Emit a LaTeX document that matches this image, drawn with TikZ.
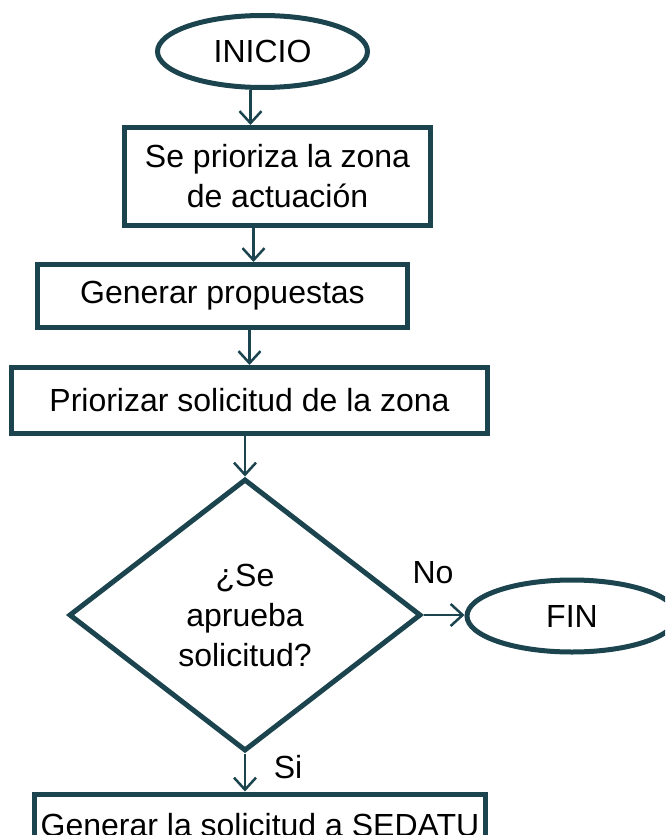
\documentclass[tikz,border=0pt]{standalone}
\usepackage{fontspec}
\setmainfont{Liberation Sans}
\usetikzlibrary{shapes.geometric,arrows.meta}
\definecolor{flowline}{RGB}{27,68,79}

\begin{document}
\begin{tikzpicture}[x=1pt,y=-1pt,
  every node/.style={font=\fontsize{32}{40}\selectfont},
  term/.style={draw=flowline,line width=5pt,ellipse,minimum width=210pt,minimum height=72pt,inner sep=0pt},
  proc/.style={draw=flowline,line width=5pt,rectangle,align=center,inner sep=0pt},
  decis/.style={draw=flowline,line width=5pt,diamond,aspect=1.3,minimum width=352pt,minimum height=272pt,align=center,inner sep=0pt},
  flow/.style={draw=flowline,line width=2.5pt,-{Straight Barb[length=12pt,width=22pt]}}]
\useasboundingbox (0,0) rectangle (665,835);
\clip (0,0) rectangle (665,835);
\node[term] (inicio) at (262.5,51.5) {INICIO};
\node[proc,minimum width=306pt,minimum height=98pt] (zona) at (277.5,176.5) {Se prioriza la zona\\de actuación};
\node[proc,minimum width=370pt,minimum height=63pt] (prop) at (222.5,296) {Generar propuestas};
\node[proc,minimum width=476pt,minimum height=66pt] (prio) at (249.5,400.5) {Priorizar solicitud de la zona};
\node[decis] (aprueba) at (245,615) {¿Se\\aprueba\\solicitud?};
\node[term] (fin) at (572,616) {FIN};
\node[proc,minimum width=451pt,minimum height=62pt] (sedatu) at (260,825) {Generar la solicitud a SEDATU};
% conectores
\draw[flow] ([xshift=-12pt]inicio.south) -- ([xshift=-12pt]inicio.south |- zona.north);
\draw[flow] ([xshift=-24pt]zona.south) -- ([xshift=-24pt]zona.south |- prop.north);
\draw[flow] ([xshift=27pt]prop.south) -- ([xshift=27pt]prop.south |- prio.north);
\draw[flow] (aprueba.north |- prio.south) -- (aprueba.north);
\draw[flow] (aprueba.east) -- (aprueba.east -| fin.west);
\draw[flow] (aprueba.south) -- (aprueba.south |- sedatu.north);
\node (no) at (433,573) {No};
\node (si) at (288,767) {Si};
\end{tikzpicture}
\end{document}
